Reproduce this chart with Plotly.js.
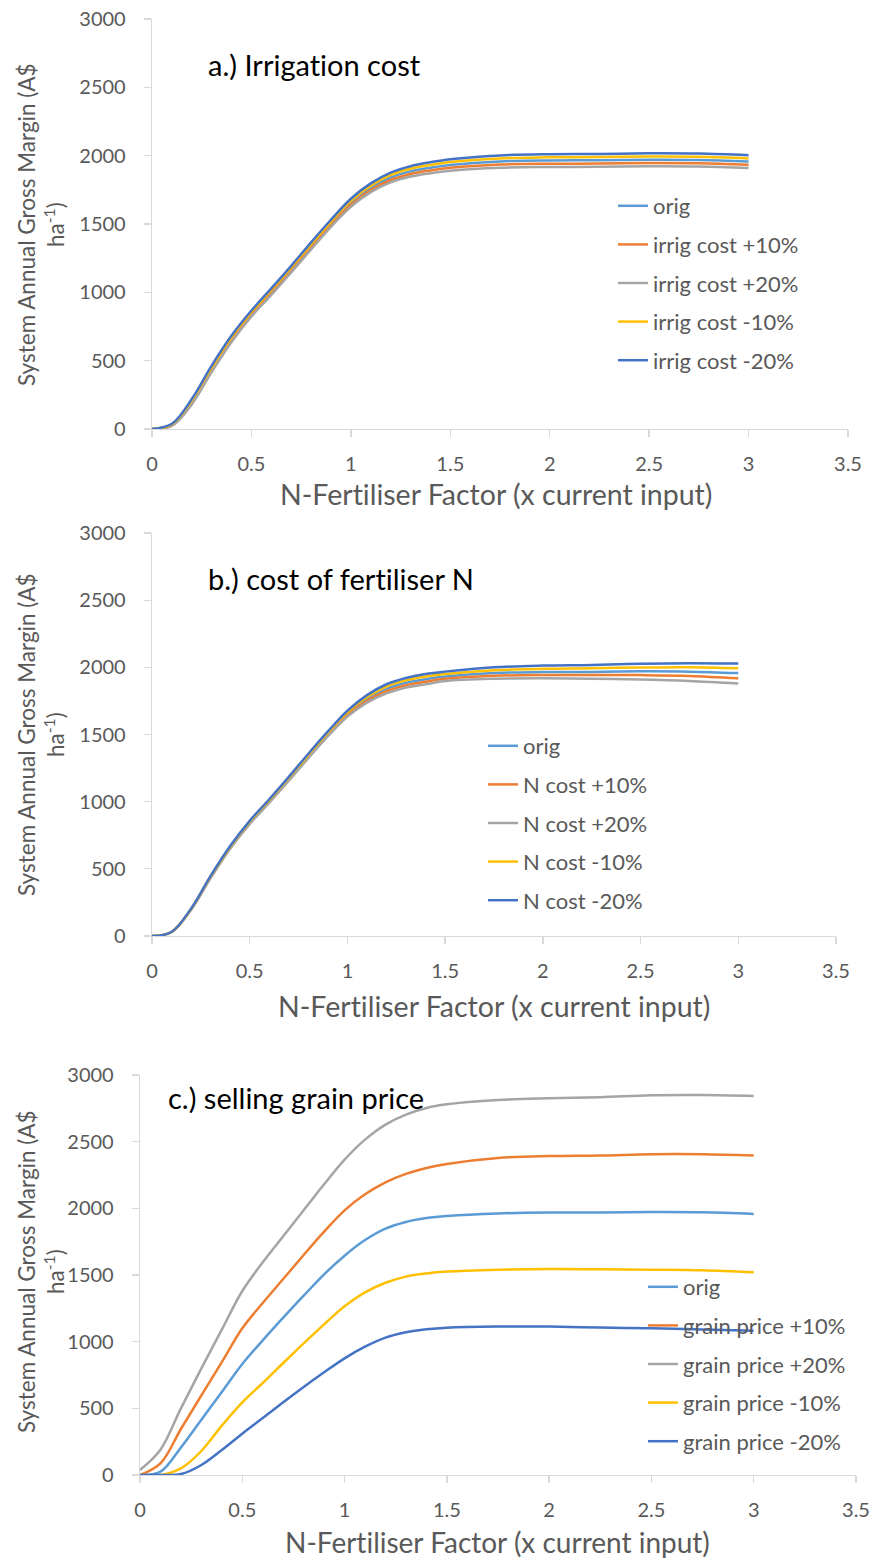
<!DOCTYPE html>
<html>
<head>
<meta charset="utf-8">
<script src="https://cdn.plot.ly/plotly-3.0.1.min.js"></script>
<style>html,body{margin:0;padding:0;background:#fff;}#chart{width:878px;height:1561px;}
text{font-variant-ligatures:none;font-feature-settings:"liga" 0,"clig" 0;}</style>
</head>
<body>
<div id="chart"></div>
<script>
// N-fertiliser factor (x current input)
const nFactor = [0, 0.1, 0.2, 0.3, 0.4, 0.5, 0.6, 0.7, 0.8, 0.9, 1.0, 1.1, 1.2, 1.3, 1.4, 1.5, 1.75, 2.0, 2.25, 2.5, 2.75, 3.0];

// a.) Irrigation cost
const irrigOrig  = [0, 30, 200, 440, 660, 845, 1005, 1170, 1340, 1505, 1655, 1765, 1840, 1885, 1912, 1932, 1958, 1965, 1966, 1970, 1968, 1957];
const irrigP10   = [0, 26, 190, 428, 648, 834, 993, 1158, 1327, 1492, 1640, 1749, 1822, 1866, 1892, 1911, 1935, 1941, 1942, 1946, 1944, 1933];
const irrigP20   = [0, 22, 180, 416, 636, 823, 981, 1146, 1314, 1479, 1625, 1733, 1804, 1847, 1872, 1890, 1912, 1917, 1918, 1922, 1920, 1909];
const irrigM10   = [0, 34, 210, 452, 672, 856, 1017, 1182, 1353, 1518, 1670, 1781, 1858, 1904, 1932, 1953, 1980, 1988, 1990, 1994, 1992, 1980];
const irrigM20   = [0, 38, 220, 464, 684, 867, 1029, 1194, 1366, 1531, 1685, 1797, 1876, 1923, 1952, 1974, 2002, 2011, 2013, 2017, 2015, 2003];

// b.) cost of fertiliser N
const nOrig = [0, 30, 200, 440, 660, 845, 1005, 1170, 1340, 1505, 1655, 1765, 1840, 1885, 1912, 1932, 1958, 1965, 1966, 1970, 1968, 1957];
const nP10  = [0, 30, 198, 436, 655, 839, 999, 1163, 1332, 1496, 1644, 1751, 1823, 1867, 1893, 1915, 1937, 1943, 1943, 1942, 1936, 1918];
const nP20  = [0, 30, 196, 432, 650, 833, 993, 1156, 1324, 1487, 1633, 1737, 1806, 1849, 1874, 1898, 1915, 1918, 1915, 1910, 1899, 1880];
const nM10  = [0, 30, 202, 444, 665, 851, 1011, 1177, 1348, 1514, 1666, 1779, 1857, 1903, 1931, 1950, 1978, 1989, 1993, 1999, 2001, 1993];
const nM20  = [0, 30, 204, 448, 670, 857, 1018, 1185, 1357, 1523, 1677, 1793, 1874, 1921, 1950, 1968, 2000, 2013, 2018, 2027, 2030, 2028];

// c.) selling grain price
const grainOrig = [0, 25, 207, 415, 622, 832, 1010, 1180, 1345, 1505, 1645, 1762, 1848, 1898, 1927, 1943, 1962, 1968, 1968, 1972, 1970, 1958];
const grainP10  = [0, 87, 345, 597, 847, 1100, 1290, 1470, 1650, 1825, 1985, 2105, 2195, 2258, 2302, 2333, 2378, 2392, 2396, 2406, 2406, 2397];
const grainP20  = [38, 190, 500, 800, 1090, 1380, 1595, 1790, 1985, 2180, 2365, 2515, 2628, 2703, 2753, 2780, 2812, 2825, 2833, 2848, 2850, 2843];
const grainM10  = [0, 0, 50, 180, 370, 545, 690, 840, 987, 1130, 1265, 1370, 1442, 1488, 1512, 1526, 1540, 1545, 1543, 1540, 1535, 1520];
const grainM20  = [0, 0, 7, 75, 187, 310, 427, 545, 660, 770, 875, 962, 1030, 1070, 1093, 1105, 1113, 1113, 1106, 1100, 1092, 1082];

const namesA = ["orig", "irrig cost +10%", "irrig cost +20%", "irrig cost -10%", "irrig cost -20%"];
const namesB = ["orig", "N cost +10%", "N cost +20%", "N cost -10%", "N cost -20%"];
const namesC = ["orig", "grain price +10%", "grain price +20%", "grain price -10%", "grain price -20%"];
const colors = ["#5B9BD5", "#ED7D31", "#A5A5A5", "#FFC000", "#4472C4"];

const W = 878, H = 1561;
const FONT = "Lato, 'Open Sans', sans-serif";
const GREY = "#595959";

function mk(series, names, xa, ya, leg, grp) {
  return series.map((ys, i) => ({
    x: nFactor, y: ys, type: "scatter", mode: "lines",
    name: names[i], xaxis: xa, yaxis: ya, legend: leg,
    legendgroup: grp + i,
    line: {color: colors[i], width: 2.5, shape: "spline", smoothing: 1}
  }));
}

const traces = [].concat(
  mk([irrigOrig, irrigP10, irrigP20, irrigM10, irrigM20], namesA, "x", "y", "legend", "a"),
  mk([nOrig, nP10, nP20, nM10, nM20], namesB, "x2", "y2", "legend2", "b"),
  mk([grainOrig, grainP10, grainP20, grainM10, grainM20], namesC, "x3", "y3", "legend3", "c")
);

function xax(domain, anchor) {
  return {domain: domain, anchor: anchor, range: [0, 3.5], dtick: 0.5, tick0: 0,
    showgrid: false, zeroline: false, showline: true, linecolor: "#D9D9D9", linewidth: 1.3,
    ticks: "outside", ticklen: 7, tickcolor: "#D9D9D9", tickwidth: 1.3,
    ticklabelstandoff: 10, fixedrange: true,
    tickfont: {family: FONT, size: 20, color: GREY}};
}
function yax(domain, anchor) {
  return {domain: domain, anchor: anchor, range: [0, 3000], dtick: 500, tick0: 0,
    showgrid: false, zeroline: false, showline: true, linecolor: "#D9D9D9", linewidth: 1.3,
    ticks: "outside", ticklen: 7, tickcolor: "#D9D9D9", tickwidth: 1.3,
    ticklabelstandoff: 14, fixedrange: true,
    tickfont: {family: FONT, size: 20, color: GREY}};
}
function px(v) { return v / W; }
function py(v) { return 1 - v / H; }

function legend(xp, yp) {
  return {x: px(xp), y: py(yp), xanchor: "left", yanchor: "top",
    bgcolor: "rgba(0,0,0,0)", borderwidth: 0, tracegroupgap: 7,
    font: {family: FONT, size: 22, color: GREY}};
}

const yTitle = "System Annual Gross Margin (A$<br>ha<sup>-1</sup>)";
const xTitle = "N-Fertiliser Factor (x current input)";

function ann(text, x, y, size, color, angle) {
  return {text: text, x: px(x), y: py(y), xref: "paper", yref: "paper",
    xanchor: "center", yanchor: "middle", showarrow: false, textangle: angle || 0,
    font: {family: FONT, size: size, color: color}};
}
function label(text, x, y) {
  return {text: text, x: px(x), y: py(y), xref: "paper", yref: "paper",
    xanchor: "left", yanchor: "middle", showarrow: false,
    font: {family: FONT, size: 29, color: "#000000"}};
}

const layout = {
  width: W, height: H,
  margin: {l: 0, r: 0, t: 0, b: 0},
  paper_bgcolor: "#ffffff", plot_bgcolor: "#ffffff",
  showlegend: true,
  xaxis: xax([px(152), px(848)], "y"),
  yaxis: yax([py(429), py(19)], "x"),
  xaxis2: xax([px(152), px(836)], "y2"),
  yaxis2: yax([py(936), py(533)], "x2"),
  xaxis3: xax([px(140), px(856)], "y3"),
  yaxis3: yax([py(1475), py(1075)], "x3"),
  legend: legend(613, 185),
  legend2: legend(483, 725),
  legend3: legend(643, 1266),
  annotations: [
    label("a.) Irrigation cost", 206, 65),
    label("b.) cost of fertiliser N", 206, 578),
    label("c.) selling grain price", 166, 1097),
    ann(yTitle, 41, 225, 22.5, GREY, -90),
    ann(yTitle, 41, 735, 22.5, GREY, -90),
    ann(yTitle, 41, 1272, 22.5, GREY, -90),
    ann(xTitle, 496, 494, 28.5, GREY),
    ann(xTitle, 494, 1006, 28.5, GREY),
    ann(xTitle, 497, 1542, 28, GREY)
  ]
};

Plotly.newPlot("chart", traces, layout, {staticPlot: true, displayModeBar: false});
</script>
</body>
</html>
